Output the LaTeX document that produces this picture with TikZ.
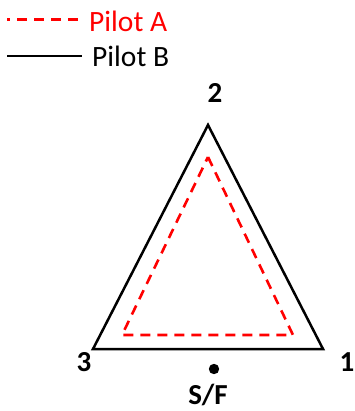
\documentclass[tikz,border=0pt]{standalone}
\usepackage{fontspec}
\setmainfont{Carlito}
\begin{document}
\begin{tikzpicture}[x=1pt,y=-1pt,
  outer/.style={black,line width=2.5pt,line join=miter},
  inner/.style={red,line width=2.6pt,dash pattern=on 10pt off 7pt},
  legred/.style={red,line width=2.6pt,dash pattern=on 3pt off 7pt on 10pt off 7pt on 10pt off 7pt on 10pt off 7pt on 10pt off 7pt on 10pt off 7pt},
  lbl/.style={font=\fontsize{29}{29}\selectfont\bfseries,anchor=base,inner sep=0pt},
  legtxt/.style={font=\fontsize{29.5}{29.5}\selectfont,anchor=base west,inner sep=0pt}]
\useasboundingbox (0,0) rectangle (354,411);
% legend
\coordinate (ra) at (7,19.5);
\coordinate (rb) at (85,19.5);
\coordinate (ba) at (7,56);
\coordinate (bb) at (82,56);
\draw[legred] (ra) -- (rb);
\draw[outer] (ba) -- (bb);
\node[legtxt,red] (pa) at (89,31.5) {Pilot A};
\node[legtxt] (pb) at (92,67) {Pilot B};
% outer triangle
\coordinate (o2) at (208,125);
\coordinate (o3) at (93,349);
\coordinate (o1) at (323,349);
\draw[outer] (o2) -- (o1) -- (o3) -- cycle;
% inner triangle
\coordinate (i2) at (208,157);
\coordinate (i3) at (122,335);
\coordinate (i1) at (293,335);
\draw[inner] (i2) -- (i1) -- (i3) -- cycle;
% labels
\node[lbl] (l2) at (215,103) {2};
\node[lbl] (l3) at (84,371) {3};
\node[lbl] (l1) at (347,371) {1};
\fill (214,369) circle (5.2pt) coordinate (sf);
\node[lbl] (lsf) at (208,404) {S/F};
\end{tikzpicture}
\end{document}
